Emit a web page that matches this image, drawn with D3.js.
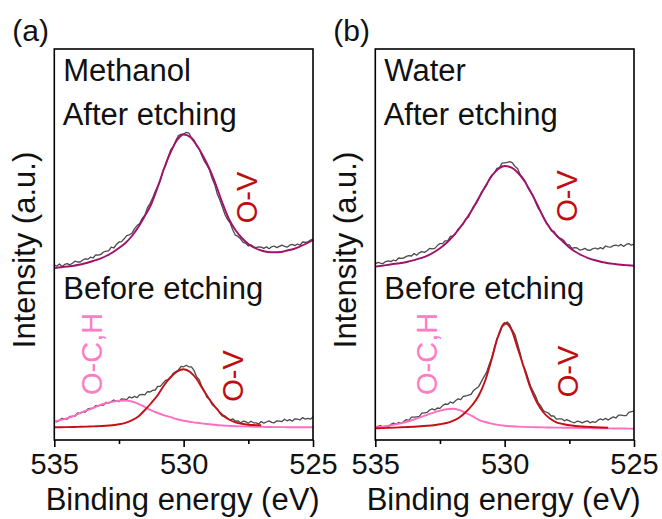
<!DOCTYPE html>
<html>
<head>
<meta charset="utf-8">
<script src="https://cdn.jsdelivr.net/npm/d3@7"></script>
<style>
  body { margin: 0; background: #fff; }
  text { font-family: "Liberation Sans", Arial, Helvetica, sans-serif; }
</style>
</head>
<body>
<svg id="chart" width="662" height="519"></svg>
<script>
// Energy grids (eV): raw spectra every 0.1 eV, fitted components every 0.25 eV
const energyRaw = d3.range(0, 101).map(i => +(535 - i * 0.1).toFixed(1));
const energyFit = d3.range(0, 41).map(i => 535 - i * 0.25);

const majorTicks = [535, 530, 525];
const minorTicks = [532.5, 527.5];

// O 1s spectra, methanol-treated sample (intensity, a.u.)
const methanolAfterRaw = [
  43.7,43.5,44.0,43.4,43.9,44.1,43.8,44.2,44.7,44.5,
  44.5,45.0,45.3,45.2,45.7,45.5,46.3,46.2,46.4,47.0,
  47.2,47.3,48.2,48.0,48.9,49.5,49.6,50.3,51.1,51.3,
  51.7,52.8,53.6,54.1,55.4,56.2,58.1,59.1,60.5,62.1,
  63.5,64.9,67.3,68.6,70.7,72.5,73.4,74.9,76.1,76.4,
  76.5,76.9,76.7,75.6,75.0,73.5,72.8,71.1,69.7,68.7,
  67.5,65.4,63.9,61.5,60.0,58.2,56.3,55.1,54.2,52.5,
  51.2,50.9,50.3,49.4,49.2,48.5,48.8,48.3,48.1,48.3,
  48.2,47.9,48.3,47.8,48.3,48.5,48.1,48.4,48.7,48.4,
  48.2,48.7,48.9,48.6,49.0,48.7,49.5,49.4,49.5,50.0,
  50.2
];
const methanolAfterFit = [
  43.0,43.18,43.38,43.55,43.88,44.25,44.75,45.3,46.0,46.88,
  48.0,49.25,51.0,53.25,56.0,59.0,63.25,68.0,72.0,75.0,
  76.38,75.75,73.75,71.0,67.75,63.75,59.25,55.25,52.5,50.5,
  49.0,48.0,47.38,47.0,46.93,47.0,47.38,47.75,48.38,49.13,
  50.0
];
const methanolBeforeRaw = [
  4.8,4.5,5.0,5.4,5.2,5.2,5.9,5.9,6.0,6.8,
  6.6,7.1,7.0,7.8,7.9,7.9,8.6,8.5,8.8,8.7,
  9.4,9.2,9.6,10.0,9.7,9.6,10.3,10.2,10.1,10.8,
  10.5,10.9,10.6,11.3,11.4,11.3,12.1,12.0,12.4,12.5,
  13.4,13.4,14.2,14.9,15.1,15.6,16.7,17.1,17.5,18.4,
  18.3,18.7,18.3,18.3,17.4,15.8,15.1,13.4,12.3,10.7,
  10.2,8.9,8.3,7.8,6.7,6.0,6.0,5.4,5.0,5.3,
  4.7,4.8,4.3,4.7,4.6,4.2,4.7,4.3,4.3,4.0,
  4.6,4.2,4.5,4.8,4.4,4.3,4.8,4.7,4.6,5.2,
  4.8,5.1,4.7,5.3,5.2,5.0,5.6,5.2,5.4,5.2,
  5.8
];
const methanolBeforeOV = [
  3.18,3.2,3.23,3.25,3.3,3.35,3.4,3.48,3.55,3.7,
  3.93,4.3,4.93,5.88,7.5,9.25,11.25,13.75,15.75,17.13,
  17.68,17.0,15.25,12.63,10.13,8.0,6.25,5.13,4.43,4.05,
  3.83,3.73,3.68
];
const methanolBeforeOCH = [
  4.58,5.0,5.45,6.0,6.75,7.38,8.0,8.7,9.18,9.55,
  9.8,9.85,9.63,9.05,8.25,7.4,6.75,6.18,5.7,5.18,
  4.8,4.55,4.3,4.1,3.93,3.75,3.63,3.53,3.45,3.4,
  3.35,3.3,3.28,3.25,3.23,3.23,3.2,3.2,3.18,3.18,
  3.18
];

// O 1s spectra, water-treated sample (intensity, a.u.)
const waterAfterRaw = [
  44.0,44.4,44.2,44.1,44.6,44.8,44.6,45.0,44.8,45.5,
  45.4,45.5,45.9,46.1,46.0,46.6,46.2,46.8,47.1,46.9,
  47.3,47.9,47.8,47.9,48.6,49.1,49.1,49.8,49.8,50.9,
  51.0,51.6,52.7,53.4,54.0,55.3,55.7,57.2,58.4,59.1,
  60.4,61.9,62.7,63.6,65.1,66.2,66.7,67.9,68.1,69.2,
  69.3,69.4,69.6,69.3,68.4,67.9,66.3,65.6,64.6,63.0,
  62.0,61.1,59.4,57.9,57.0,55.8,54.3,53.6,52.3,52.2,
  51.3,50.6,50.3,49.8,48.9,48.8,47.9,48.1,48.0,47.5,
  47.6,47.9,47.5,47.4,47.8,48.0,47.7,48.1,47.8,48.5,
  48.3,48.2,48.6,48.7,48.5,48.9,48.4,48.9,49.1,48.7,
  49.0
];
const waterAfterFit = [
  43.33,43.55,43.8,44.05,44.25,44.55,44.95,45.45,46.05,46.88,
  47.93,49.25,50.88,52.88,55.13,57.63,60.5,63.38,66.0,67.75,
  68.5,68.13,66.88,64.88,62.13,59.0,55.63,53.0,51.13,49.63,
  48.13,47.0,46.13,45.43,44.93,44.5,44.2,44.0,43.83,43.7,
  43.58
];
const waterBeforeRaw = [
  3.0,3.4,3.6,3.2,3.5,3.3,3.9,4.2,3.9,4.4,
  4.1,4.6,5.1,4.9,5.7,5.7,5.8,5.9,6.7,6.8,
  6.9,7.5,7.8,7.5,8.0,7.9,8.6,9.0,8.9,9.5,
  9.2,9.8,10.3,10.1,10.9,11.0,11.2,11.4,12.4,12.9,
  13.4,14.6,15.8,16.9,18.8,20.5,23.1,25.3,26.5,28.3,
  28.8,29.5,28.8,27.4,26.3,24.0,21.7,18.8,17.5,15.5,
  13.5,12.2,10.9,9.3,8.5,7.3,7.0,6.7,6.0,6.0,
  5.2,5.3,5.3,4.8,5.1,4.8,4.5,4.3,4.7,4.6,
  4.3,4.6,4.8,4.3,4.6,4.4,4.9,5.3,5.0,5.4,
  5.0,5.4,5.8,5.5,6.2,6.2,6.1,6.1,6.9,7.1,
  7.2
];
const waterBeforeOV = [
  2.93,2.98,3.03,3.1,3.18,3.25,3.33,3.43,3.55,3.7,
  3.93,4.25,4.8,5.63,7.0,8.75,11.13,14.88,20.25,26.0,
  29.25,27.75,23.0,18.0,13.0,9.38,6.88,5.38,4.43,4.0,
  3.68,3.5,3.38,3.28,3.2,3.13,3.08
];
const waterBeforeOCH = [
  3.08,3.3,3.55,3.85,4.2,4.63,5.13,5.73,6.3,6.85,
  7.33,7.7,7.8,7.45,6.75,5.95,5.05,4.5,4.1,3.78,
  3.55,3.43,3.35,3.28,3.23,3.18,3.15,3.13,3.1,3.08,
  3.05,3.03,3.0,2.98,2.95,2.93,2.9,2.88,2.88,2.85,
  2.83
];

const panelLabels = ["(a)", "(b)"];
const solventLabels = ["Methanol", "Water"];
const stateLabels = ["After etching", "Before etching"];
const xTitle = "Binding energy (eV)";
const yTitle = "Intensity (a.u.)";

const colors = {
  raw: "#4a4a4a",
  afterFit: "#a3106b",
  ov: "#c40f17",
  och: "#ff6ec0",
  ovText: "#c00d12",
  ochText: "#ff7cc6"
};

const panels = [
  { left: 54.3, afterRaw: methanolAfterRaw, afterFit: methanolAfterFit,
    beforeRaw: methanolBeforeRaw, ov: methanolBeforeOV, och: methanolBeforeOCH },
  { left: 375.3, afterRaw: waterAfterRaw, afterFit: waterAfterFit,
    beforeRaw: waterBeforeRaw, ov: waterBeforeOV, och: waterBeforeOCH }
];

const plotW = 258.7, plotTop = 49, plotBottom = 440;
const FS_TICK = 29;   // tick labels and rotated peak labels
const FS_TEXT = 31;   // titles and annotations
const svg = d3.select("#chart");

function pairs(energies, values) {
  return values.map((v, i) => [energies[i], v]);
}

panels.forEach((p, k) => {
  const x = d3.scaleLinear().domain([535, 525]).range([p.left, p.left + plotW]);
  const y = d3.scaleLinear().domain([0, 97.75]).range([plotBottom, plotTop]);
  const g = svg.append("g");

  const rawLine = d3.line().x(d => x(d[0])).y(d => y(d[1]));
  const fitLine = d3.line().x(d => x(d[0])).y(d => y(d[1])).curve(d3.curveMonotoneX);

  // measured spectra
  [p.afterRaw, p.beforeRaw].forEach(vals => {
    g.append("path").datum(pairs(energyRaw, vals))
      .attr("d", rawLine).attr("fill", "none")
      .attr("stroke", colors.raw).attr("stroke-width", 1.3)
      .attr("stroke-linejoin", "round");
  });
  // fitted components
  g.append("path").datum(pairs(energyFit, p.afterFit)).attr("d", fitLine)
    .attr("fill", "none").attr("stroke", colors.afterFit).attr("stroke-width", 1.9);
  g.append("path").datum(pairs(energyFit, p.och)).attr("d", fitLine)
    .attr("fill", "none").attr("stroke", colors.och).attr("stroke-width", 1.9);
  g.append("path").datum(pairs(energyFit, p.ov)).attr("d", fitLine)
    .attr("fill", "none").attr("stroke", colors.ov).attr("stroke-width", 1.9);

  // frame
  g.append("rect").attr("x", p.left).attr("y", plotTop)
    .attr("width", plotW).attr("height", plotBottom - plotTop)
    .attr("fill", "none").attr("stroke", "#000").attr("stroke-width", 1.6);

  // bottom axis
  const ax = g.append("g").attr("transform", `translate(0,${plotBottom})`)
    .call(d3.axisBottom(x).tickValues(majorTicks).tickSize(7).tickPadding(6)
      .tickFormat(d3.format("d")));
  ax.select(".domain").remove();
  ax.selectAll(".tick line").attr("stroke", "#000").attr("stroke-width", 1.6);
  ax.selectAll(".tick text").attr("font-size", FS_TICK).attr("fill", "#111")
    .attr("font-family", "Liberation Sans, Arial, sans-serif");
  const axm = g.append("g").attr("transform", `translate(0,${plotBottom})`)
    .call(d3.axisBottom(x).tickValues(minorTicks).tickSize(4).tickFormat(""));
  axm.select(".domain").remove();
  axm.selectAll(".tick line").attr("stroke", "#000").attr("stroke-width", 1.6);

  const cx = p.left + plotW / 2;
  g.append("text").attr("x", cx - 1).attr("y", 510).attr("text-anchor", "middle")
    .attr("font-size", FS_TEXT).attr("fill", "#111").text(xTitle);
  g.append("text").attr("transform", `translate(${p.left - 19.5},${250}) rotate(-90)`)
    .attr("text-anchor", "middle").attr("font-size", FS_TEXT).attr("fill", "#111").text(yTitle);

  // annotations
  g.append("text").attr("x", p.left - 42).attr("y", 40.5)
    .attr("font-size", FS_TEXT - 1).attr("fill", "#111").text(panelLabels[k]);
  g.append("text").attr("x", p.left + 9).attr("y", 81)
    .attr("font-size", FS_TEXT).attr("fill", "#111").text(solventLabels[k]);
  g.append("text").attr("x", p.left + 8.4).attr("y", 125)
    .attr("font-size", FS_TEXT).attr("fill", "#111").text(stateLabels[0]);
  g.append("text").attr("x", p.left + 9).attr("y", 299)
    .attr("font-size", FS_TEXT).attr("fill", "#111").text(stateLabels[1]);

  const ovUpper = k === 0 ? [256.7 - 54.3, 223.3] : [576.7 - 375.3, 221.7];
  const ovLower = k === 0 ? [243.3 - 54.3, 401.7] : [578.3 - 375.3, 397.3];
  const ochPos = k === 0 ? [101.7 - 54.3, 395] : [436.7 - 375.3, 395];
  g.append("text").attr("transform", `translate(${p.left + ovUpper[0]},${ovUpper[1]}) rotate(-90)`)
    .attr("font-size", FS_TICK).attr("fill", colors.ovText).text("O-V");
  g.append("text").attr("transform", `translate(${p.left + ovLower[0]},${ovLower[1]}) rotate(-90)`)
    .attr("font-size", FS_TICK).attr("fill", colors.ovText).text("O-V");
  g.append("text").attr("transform", `translate(${p.left + ochPos[0]},${ochPos[1]}) rotate(-90)`)
    .attr("font-size", FS_TICK).attr("fill", colors.ochText).text("O-C,H");
});
</script>
</body>
</html>
